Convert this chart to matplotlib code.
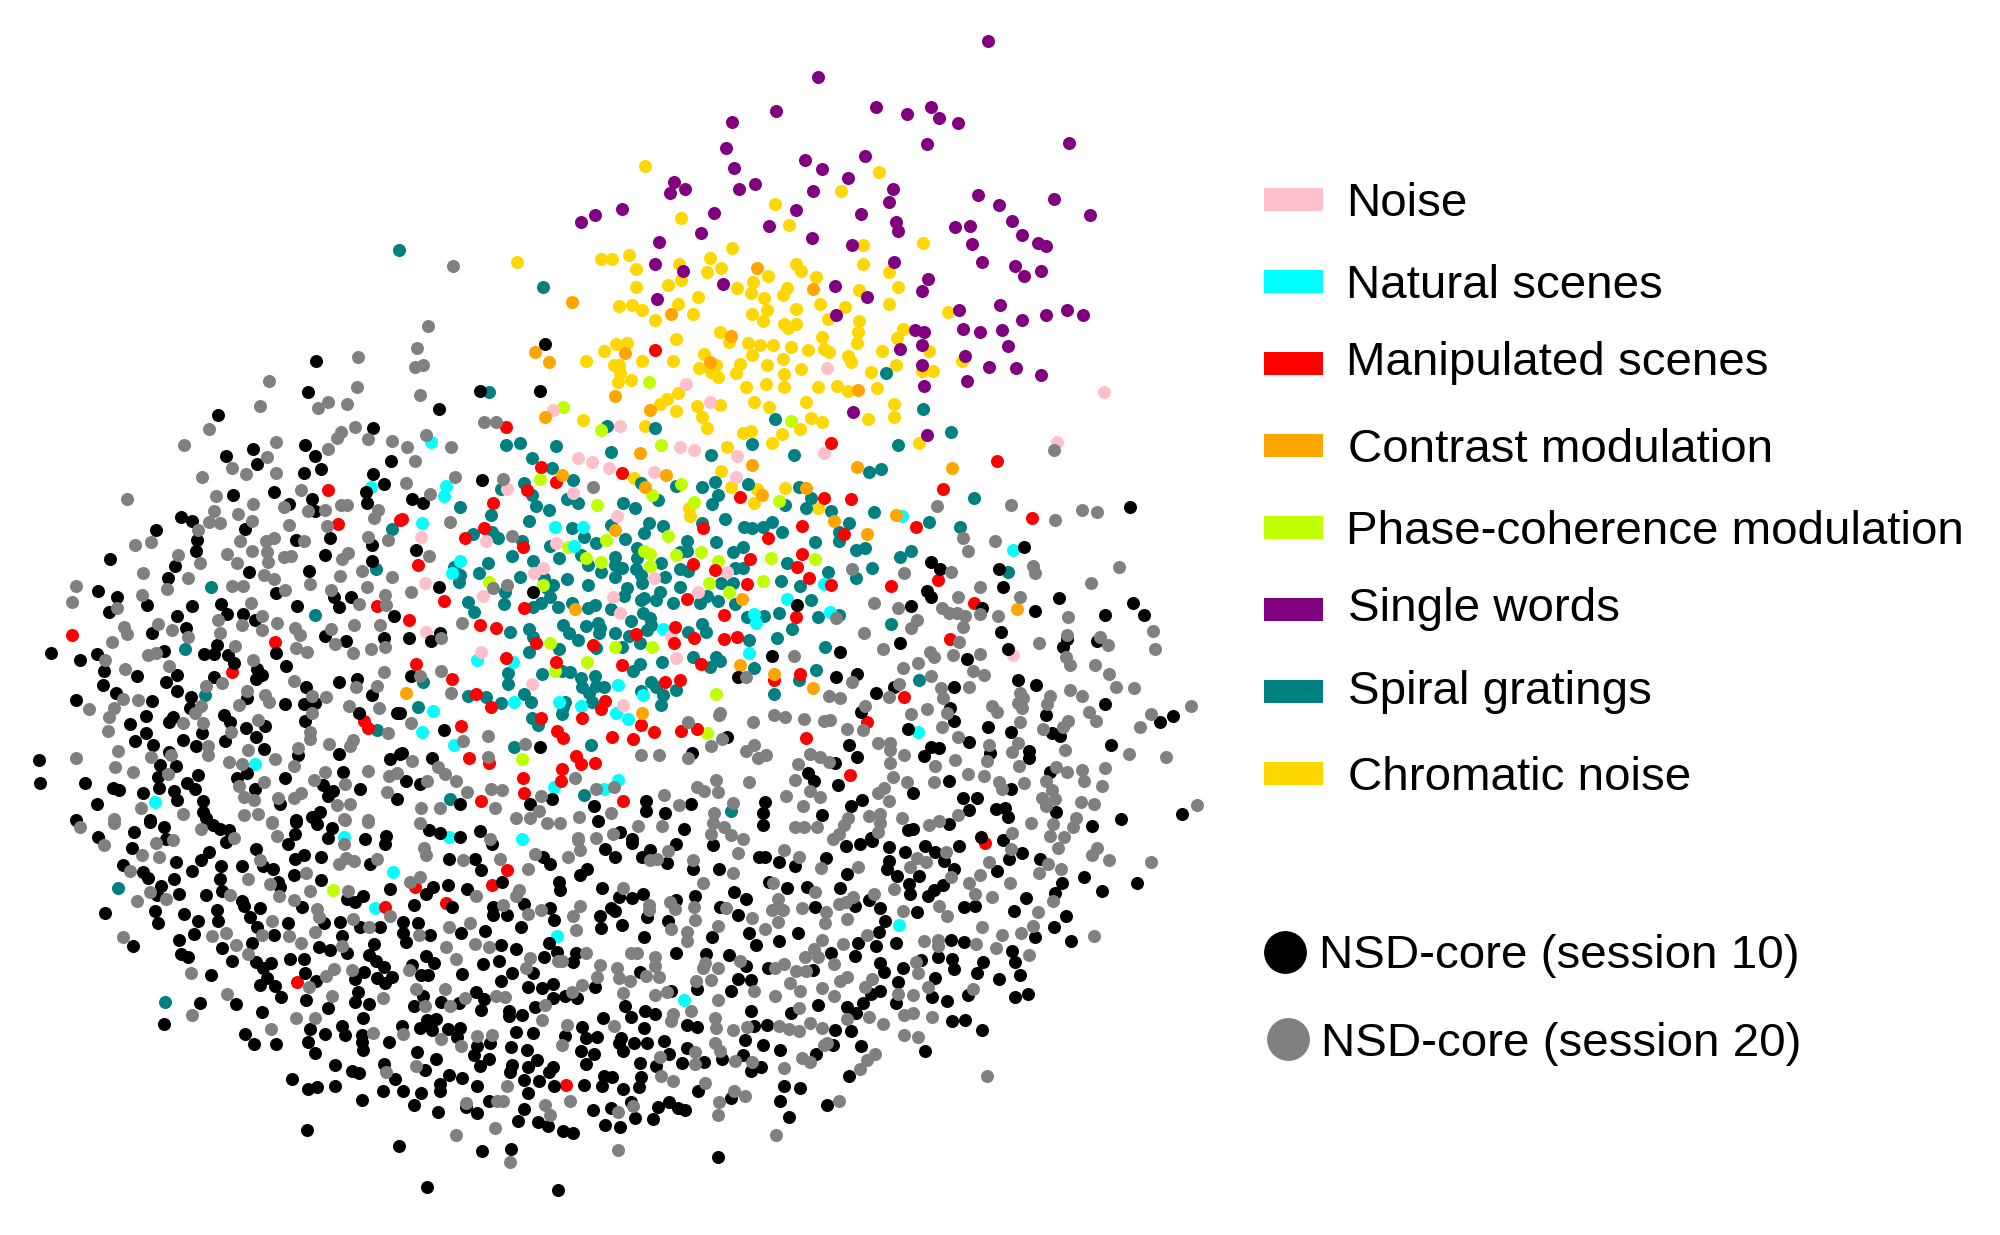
import numpy as np
import matplotlib
matplotlib.use("Agg")
import matplotlib.pyplot as plt
from matplotlib.patches import Rectangle

plt.rcParams['font.family'] = ['Liberation Sans', 'DejaVu Sans']

FRAME_TOP = (500, 20, 2.45, 3)
FRAME_MID = (400, 440, 2.45, 3)
FRAME_LEFT = (20, 340, 3, 3)
FRAME_LOWL = (60, 800, 3, 3)
FRAME_LOWR = (560, 780, 2.45, 3)
FRAME_RIGHT = (1040, 440, 3, 3)
FRAME_EDGE = (260, 230, 3, 3)

purple_top = [(1195,62),(779,170),(677,272),(569,305),(920,261),(996,282),(1056,261),(1076,295),(1121,310),(1045,372),(1395,369),(554,385),(747,421),(789,446),(895,407),(852,474),(574,445),(427,487),(453,506),(417,519),(585,507),(625,491),(768,514),(962,506),(953,547),(1172,525),(1222,554),(1358,537),(199,605),(232,586),(298,568),(525,578),(726,571),(885,583),(1445,584),(658,619),(493,638),(970,606),(975,632),(1114,620),(1152,619),(1254,604),(1280,644),(389,666),(764,655),(862,675),(1156,672),(1318,670),(1337,679),(379,733),(448,752),(965,726),(1180,725),(1262,737),(1283,767),(1326,754),(547,793),(821,797),(1048,778),(1033,814),(384,837),(900,830),(1124,870),(1224,854),(823,885),(1389,871),(1428,884),(1337,884),(1278,900),(1016,929),(1038,937),(1135,928),(1175,937),(1231,929),(1034,974),(981,988),(1245,978),(1140,1008),(1034,1035),(1198,1041),(1265,1044),(1325,1065),(1143,1082),(1039,1097),(866,1176),(1046,1245)]

gold_top = [(356,439),(929,456),(836,514),(673,553),(444,594),(707,615),(889,674),(1036,668),(568,684),(41,727),(247,717),(275,717),(315,704),(332,746),(438,732),(514,714),(507,757),(542,745),(724,731),(737,752),(889,731),(952,755),(656,767),(773,770),(620,787),(581,803),(443,780),(412,794),(334,800),(704,805),(694,825),(616,818),(647,833),(879,809),(974,800),(485,832),(437,851),(292,858),(323,854),(349,871),(472,881),(379,900),(618,883),(655,871),(725,867),(784,852),(846,861),(953,851),(1097,876),(644,904),(803,896),(697,913),(725,911),(706,925),(879,903),(878,935),(988,926),(972,954),(539,937),(430,956),(789,952),(560,966),(607,968),(636,975),(668,974),(283,973),(311,969),(256,993),(712,980),(755,990),(794,986),(805,995),(874,968),(935,994),(1052,992),(501,1001),(617,1004),(211,1023),(347,1022),(423,1023),(694,1016),(853,1007),(859,1026),(279,1035),(292,1035),(528,1035),(588,1031),(488,1045),(653,1036),(737,1047),(971,1036),(1132,1023),(1034,1053),(1060,1053),(909,1056),(293,1058),(518,1057),(577,1059),(535,1071),(697,1061),(290,1085),(322,1081),(602,1100),(651,1093),(695,1102),(780,1100),(825,1099),(852,1112),(924,1104),(435,1118),(409,1136),(391,1152),(482,1157),(540,1155),(622,1147),(660,1161),(749,1146),(966,1152),(430,1174),(494,1191),(966,1190),(203,1199),(763,1195),(788,1205),(901,1196),(506,1223),(356,1217),(735,1226),(596,1238),(615,1233),(692,1243)]
gold_mid = [(800,20),(912,10),(1272,8),(787,93),(573,113),(812,142),(875,147),(943,143),(868,188),(708,205),(711,228),(1023,205)]

orange_top = [(630,743),(177,845),(766,806),(419,882),(565,947),(85,997),(119,1025),(306,999),(515,1026),(282,1127),(878,1111),(367,1169),(110,1190)]
orange_mid = [(588,40),(1120,80),(1353,84),(862,75),(396,105),(652,105),(600,142),(994,145),(886,165),(1216,225),(1064,243),(527,270),(1144,282),(838,478),(428,507),(15,758),(833,675),(916,701),(1013,743),(592,818),(1512,508)]

teal_top = [(106,800),(946,1060),(1037,1168),(673,1196),(263,1218),(380,1225),(1105,1235)]
teal_mid = [(260,15),(293,10),(381,18),(518,36),(762,45),(966,45),(863,12),(1221,15),(323,53),(373,83),(1150,95),(1178,88),(423,120),(303,128),(248,148),(590,130),(675,137),(740,140),(772,125),(853,133),(977,142),(323,165),(408,177),(435,190),(333,197),(366,209),(148,200),(223,225),(547,190),(575,205),(633,180),(780,165),(765,193),(943,195),(1006,175),(995,203),(1055,212),(1161,215),(1407,173),(315,242),(797,238),(516,255),(610,250),(645,258),(741,250),(842,262),(862,265),(890,262),(912,245),(935,275),(1100,250),(1297,247),(1373,262),(180,282),(225,275),(241,295),(422,265),(450,292),(480,308),(597,278),(552,298),(1076,275),(1076,303),(298,302),(367,318),(1017,307),(703,303),(775,305),(1118,330),(1140,325),(1225,350),(1253,333),(580,325),(703,332),(685,335),(817,335),(840,322),(274,347),(390,355),(443,345),(527,350),(580,355),(215,370),(326,362),(460,375),(640,370),(948,370),(132,380),(148,405),(193,398),(145,425),(295,410),(352,413),(410,418),(493,395),(527,375),(543,385),(527,412),(578,388),(590,405),(592,430),(687,388),(705,392),(650,412),(820,383),(841,385),(1049,397),(1118,415),(1156,385),(1490,395),(461,435),(375,435),(360,445),(368,470),(258,455),(555,445),(550,468),(685,440),(786,430),(817,430),(933,423),(979,437),(167,485),(182,515),(255,492),(327,500),(345,490),(387,500),(422,490),(460,505),(478,495),(518,507),(590,480),(597,475),(628,480),(637,457),(670,490),(735,488),(752,467),(778,482),(820,492),(1006,480),(595,520),(612,535),(565,543),(850,530),(893,528),(928,518),(1024,532),(1076,524),(399,555),(455,558),(484,550),(490,563),(487,580),(615,555),(605,570),(741,553),(750,575),(269,575),(315,567),(325,590),(413,578),(435,600),(527,578),(560,587),(587,608),(705,575),(961,567),(1202,553),(855,600),(923,593),(315,635),(390,627),(480,625),(543,620),(1041,620),(641,667),(718,650),(775,650),(785,662),(760,682),(868,683),(587,672),(572,692),(396,692),(416,695),(443,715),(348,702),(264,700),(478,708),(265,732),(445,742),(462,760),(480,738),(500,740),(1019,690),(977,720),(1272,720),(615,725),(628,740),(590,752),(676,750),(645,765),(640,795),(167,768),(210,770),(247,788),(303,763),(320,787),(470,785),(400,800),(398,823),(405,785),(43,800),(57,727),(323,835),(337,855),(916,762),(467,916),(280,920),(123,1076),(451,1065),(812,1113)]
teal_left = [(573,740),(885,825),(495,927),(556,1066),(1117,567),(1071,1171),(1067,688),(1408,157)]
teal_lowl = [(175,264),(314,605)]
teal_edge = [(417,60)]

red_top = [(380,991),(15,1222)]
red_mid = [(1055,8),(1463,63),(345,82),(383,127),(543,99),(312,150),(1331,148),(228,190),(834,170),(1040,173),(1105,178),(5,238),(985,257),(1265,262),(1548,233),(743,265),(207,265),(159,293),(901,295),(1088,282),(302,322),(984,342),(858,356),(718,372),(43,375),(973,380),(771,390),(1002,413),(1202,437),(1317,420),(851,433),(1056,435),(108,482),(702,477),(1406,488),(303,505),(795,524),(971,530),(21,540),(196,554),(236,563),(578,582),(674,560),(720,595),(672,610),(794,597),(825,592),(334,610),(472,616),(1348,597),(259,653),(38,673),(381,666),(543,676),(738,672),(980,702),(917,720),(127,717),(650,725),(686,719),(186,763),(1234,772),(223,800),(503,782),(493,808),(345,835),(445,834),(149,857),(591,856),(1143,846),(385,873),(400,893),(520,890),(571,896),(623,877),(688,872),(728,866),(994,894),(168,954),(217,968),(430,948),(443,973),(477,970),(397,987),(301,1013),(1102,1006),(395,1024),(303,1060),(198,1084),(546,1084)]
red_left = [(924,450),(954,552),(1139,540),(157,885),(766,905),(635,997),(1070,798),(1032,1143),(1043,1165)]
red_lowl = [(1066,262),(975,322),(1158,310),(1342,209),(1295,255),(711,547)]
red_lowr = [(14,915),(1041,190)]

cyan_mid = [(75,5),(112,137),(108,167),(54,249),(379,261),(448,262),(427,318),(146,363),(128,398),(1502,330),(1230,228),(1040,433),(947,476),(1053,516),(868,522),(871,550),(645,566),(856,638),(188,659),(276,665),(535,734),(596,766),(280,787),(390,785),(443,798),(80,813),(528,820),(558,838),(55,876),(132,915),(1269,875),(535,1021),(377,1040),(500,1047),(120,1192),(298,1197)]
cyan_left = [(1054,440),(705,1273),(406,1387)]
cyan_lowl = [(851,112),(999,217),(945,323),(1490,408)]
cyan_lowr = [(830,434),(303,661)]

pink_top = [(801,1043),(455,1091),(1481,1117),(514,1146),(130,1171),(293,1217),(1365,1265)]
pink_mid = [(437,53),(471,67),(512,84),(685,22),(720,30),(825,47),(1038,38),(623,97),(823,110),(263,147),(423,160),(532,228),(51,291),(210,302),(383,308),(351,383),(328,398),(800,395),(622,413),(61,429),(203,467),(729,455),(522,472),(540,520),(63,575),(663,588),(198,637),(677,653),(1502,645),(323,733),(547,794)]

lime_top = [(364,1085),(155,1160),(714,1203),(248,1231)]
lime_mid = [(640,15),(343,117),(688,132),(618,165),(483,195),(720,187),(928,182),(656,288),(505,300),(412,320),(598,333),(613,342),(676,345),(737,337),(456,355),(492,367),(613,378),(778,362),(909,353),(1017,356),(217,425),(757,430),(890,424),(805,457),(350,435),(367,610),(527,622),(618,620),(457,665),(380,692),(775,762),(752,880),(298,956)]
lime_lowl = [(820,270)]

black_top = [(110,972),(97,1113)]
black_mid = [(200,120),(30,177),(56,188),(40,330),(95,440),(326,455),(97,578),(75,602),(22,595),(27,708),(1302,365),(1322,388),(1530,320),(1467,388),(1477,440),(1290,452),(1300,472),(972,494),(1251,497),(1427,503),(1555,512),(1472,575),(1225,610),(1489,626),(1079,637),(911,648),(1388,657),(1119,702),(1067,712),(828,710),(1513,721),(1557,735),(1358,742),(1210,742),(1167,760),(1347,805),(1130,817),(1357,843),(1440,860),(1245,868),(1497,876),(107,871),(1395,906),(1101,915),(802,892),(344,921),(1300,922),(1320,925),(1285,947),(1445,940),(715,938),(1542,932),(1542,955),(5,940),(79,955),(1119,950),(1065,968),(999,998),(1014,1023),(15,1024),(48,1032),(1074,1034),(1345,1022),(372,1077),(1257,1060),(1497,1047),(603,1084),(602,1113),(318,1093),(148,1092),(475,1098),(650,1120),(714,1093),(895,1087),(890,1120),(890,1155),(1132,1079),(1105,1098),(1033,1124),(1380,1074),(1413,1073),(1393,1110),(1460,1107),(1482,1105),(1490,1130),(1345,1153),(485,1142),(70,1170),(98,1180),(148,1190),(195,1172),(697,1168),(538,1175),(1245,1170),(1258,1168),(1423,1190),(1155,1195),(568,1198),(0,820)]
black_right = [(271,201),(56,475),(279,490),(313,526),(195,525),(80,598),(68,620),(170,603),(195,792),(398,829),(359,845),(17,825),(36,878),(60,887),(214,915),(29,995),(49,1116),(426,1123),(244,1136),(156,1158)]
black_left = [(887,64),(864,156),(595,226),(1257,207),(1380,152),(1058,265),(854,316),(1113,363),(698,328),(617,349),(886,348),(710,373),(903,388),(852,399),(1060,403),(1093,431),(762,455),(639,466),(1038,457),(875,478),(1040,489),(806,491),(885,513),(484,531),(516,543),(408,571),(676,566),(530,600),(829,601),(930,593),(1056,615),(527,632),(269,657),(914,646),(465,677),(1056,664),(686,697),(867,692),(445,714),(233,754),(290,771),(380,796),(767,758),(942,770),(994,772),(958,800),(517,797),(604,793),(621,822),(266,816),(831,797),(668,821),(472,829),(706,841),(1123,827),(497,864),(397,880),(915,887),(1091,895),(978,903),(92,938),(433,932),(590,916),(552,943),(582,943),(230,943),(769,939),(623,944),(180,961),(641,968),(799,977),(253,994),(712,987),(727,1005),(707,1018),(352,1008),(470,1005),(581,1010),(437,1027),(249,1034),(958,1025),(1012,1018),(858,1040),(288,1058),(470,1054),(1055,1066),(513,1070),(681,1073),(169,1080),(397,1084),(795,1091),(852,1092),(885,1088),(510,1105),(377,1128),(1016,1120),(1131,1120),(612,1125),(459,1132),(447,1146),(330,1153),(630,1147),(855,1143),(735,1157),(679,1164),(546,1178),(378,1178),(709,1192),(345,1202),(489,1201),(614,1204),(398,1216),(528,1219),(731,1227),(447,1237),(833,1245),(956,1241),(1109,1257),(1139,1242),(57,1260),(419,1275),(467,1278),(969,1296),(680,1298),(413,1312),(652,1314),(533,1305),(794,1313),(60,1328),(194,1329),(501,1328),(526,1347),(418,1344),(279,1345),(297,1351),(705,1348),(908,1335),(938,1352),(1019,1346),(462,1352),(924,1369),(368,1360),(470,1380),(549,1383),(1130,1378),(230,1393),(779,1393),(549,1417),(900,1415),(875,1430),(389,1440),(168,1440),(557,1435),(829,1440)]
black_lowl = [(269,65),(312,80),(222,96),(115,110),(319,118),(215,145),(460,75),(480,88),(508,90),(497,127),(709,65),(705,101),(684,131),(815,83),(805,115),(770,73),(915,117),(978,108),(975,133),(588,147),(446,155),(424,180),(349,185),(189,196),(397,214),(482,198),(547,197),(608,197),(640,208),(705,177),(733,165),(783,172),(930,192),(250,215),(265,233),(343,237),(480,236),(703,226),(784,240),(653,245),(660,262),(302,257),(292,285),(357,281),(438,285),(487,272),(990,267),(545,302),(553,318),(599,325),(725,320),(862,298),(884,305),(908,287),(284,333),(134,340),(373,341),(470,330),(570,350),(415,363),(474,363),(295,369),(684,369),(792,370),(840,365),(899,380),(960,381),(590,380),(401,402),(643,406),(847,407),(356,419),(219,437),(576,429),(941,432),(777,440),(811,450),(486,445),(860,460),(363,461),(384,472),(517,484),(689,477),(733,476),(926,466),(947,482),(587,487),(634,489),(610,505),(972,500),(453,524),(735,520),(913,516),(620,533),(767,542),(884,537),(952,533),(995,530),(600,556),(645,559),(975,550),(662,590),(894,577),(738,600),(529,611),(419,610),(884,607),(926,613),(804,624),(607,635),(311,672),(908,654),(749,686),(845,679),(855,704),(554,701),(581,733),(648,732),(796,703),(905,706),(905,726),(743,725),(908,750),(986,725),(766,758),(825,794),(875,812),(898,819),(973,793),(1006,837),(697,838),(743,867),(772,860),(824,857),(905,900),(969,873),(742,991),(1016,1037),(1029,365),(1074,370),(1030,400),(1037,427),(1111,405),(1098,467),(1122,490),(1055,495),(1083,525),(1104,525),(1062,617),(1090,588),(1142,606),(1197,610),(1247,577),(1272,597),(1263,630),(1207,523),(1270,492),(1317,483),(1323,435),(1368,446),(1274,393),(1202,398),(1383,382),(1298,320),(1298,345),(1341,345),(1392,312),(1327,246),(1220,267),(1163,255),(1118,261),(1098,281),(1062,314),(1177,322),(1167,177),(1245,178),(1263,211),(1297,131),(1498,245),(1467,430),(1451,471),(1491,457),(1356,520),(1324,544),(1403,560),(1420,518),(1446,565),(1479,553),(1479,593),(1424,621),(1348,632),(1348,648),(1387,645),(1369,697),(1418,698),(1354,740),(1402,751),(1430,780),(1405,802),(1356,795),(1349,815),(1391,841),(1438,843),(1404,878),(1393,928),(1374,964),(1433,966),(1464,977),(1483,858),(1480,800),(1467,815),(1250,738),(1241,765),(1289,730),(1288,776),(1259,797),(1071,756),(1128,777),(1095,811),(1167,825),(1207,833),(1250,859),(1141,853),(1139,872),(1084,880),(1028,872),(1061,916),(1133,936),(1217,920),(1250,938),(1288,902),(1100,660),(1128,657),(1080,685),(1115,690),(1025,678),(1163,687),(1199,685),(1192,712),(1267,1052),(1352,1046),(1101,1161),(1493,1171),(1469,325),(1481,360),(1450,170),(1470,192)]
black_lowr = [(177,188),(110,207),(283,193),(375,196),(700,197),(735,193),(765,182),(805,200),(895,198),(978,197),(1085,180),(1133,219),(135,232),(220,210),(200,232),(263,250),(487,232),(502,230),(536,247),(575,258),(651,235),(845,215),(918,215),(807,243),(800,268),(940,242),(1099,238),(1177,237),(48,284),(66,268),(327,268),(390,268),(702,281),(965,267),(826,289),(880,288),(1070,274),(1285,291),(1413,308),(1230,310),(1328,332),(1212,340),(0,330),(102,323),(513,305),(556,323),(604,320),(687,325),(855,312),(938,315),(917,330),(902,349),(858,342),(144,350),(176,353),(204,341),(427,337),(455,358),(331,347),(285,360),(757,360),(1141,353),(1017,377),(990,380),(392,380),(625,381),(723,378),(785,385),(875,397),(1112,394),(1239,407),(125,385),(135,392),(97,408),(212,412),(435,404),(797,424),(265,423),(153,436),(101,445),(1210,441),(462,458),(583,458),(781,455),(207,471),(372,470),(1163,471),(1253,482),(480,494),(537,482),(731,490),(775,498),(822,488),(958,480),(991,486),(1107,512),(283,518),(357,521),(413,525),(665,518),(722,528),(38,518),(32,545),(925,532),(885,540),(960,538),(1115,545),(965,567),(1037,547),(783,550),(793,576),(840,565),(455,557),(510,565),(620,571),(1022,578),(195,577),(1128,586),(1076,596),(918,594),(437,598),(468,600),(828,606),(86,622),(420,632),(783,633),(335,626),(272,632),(12,648),(42,655),(763,642),(1000,646),(1114,650),(1147,642),(911,650),(947,662),(743,669),(824,669),(160,678),(632,674),(703,682),(467,694),(565,698),(725,698),(208,693),(233,701),(173,710),(106,713),(961,724),(992,719),(55,741),(207,745),(312,735),(336,741),(476,738),(507,735),(674,750),(714,752),(1035,751),(12,768),(64,773),(90,771),(150,773),(145,790),(182,788),(214,790),(254,782),(453,780),(498,795),(670,795),(737,798),(155,812),(52,812),(311,803),(538,810),(895,812),(84,823),(267,822),(397,838),(449,826),(628,822),(64,852),(196,848),(234,859),(298,849),(354,845),(469,872),(493,861),(709,887),(107,887),(127,890),(199,891),(58,916),(104,918),(155,926),(193,921),(549,917),(588,925),(337,933),(418,953),(538,963),(267,965),(653,974),(173,966),(240,980),(288,983),(306,989),(125,983),(80,991),(561,1010),(183,1015),(227,1016),(110,1034),(148,1042),(8,1053),(32,1060),(386,1131)]

gray_mid = [(125,22),(17,22),(36,62),(134,112),(15,130),(252,116),(74,162),(472,140),(123,246),(275,288),(1315,197),(1497,195),(1380,295),(1457,304),(1391,333),(72,348),(1350,395),(1107,386),(1235,400),(1552,378),(1555,400),(1420,442),(262,434),(228,443),(28,457),(1519,472),(1367,472),(1161,489),(1219,503),(1327,503),(1345,520),(1365,518),(1385,527),(1422,522),(1465,527),(1267,540),(1253,563),(1380,562),(1068,533),(153,549),(1138,578),(100,595),(1369,606),(1565,610),(1183,627),(965,647),(1298,637),(1308,650),(1354,645),(1420,643),(1268,670),(1233,685),(48,708),(100,694),(848,710),(1300,707),(1405,693),(1430,705),(1107,725),(1222,732),(1326,745),(1394,740),(124,760),(1052,767),(1079,773),(1197,772),(1330,775),(1520,760),(1527,775),(1514,790),(1140,797),(1450,797),(1463,815),(1290,808),(1252,822),(1340,818),(1523,805),(782,825),(785,820),(917,825),(944,832),(991,836),(1040,843),(1053,840),(705,847),(865,845),(28,850),(1520,847),(1095,867),(1135,870),(1329,860),(216,888),(155,902),(1367,892),(790,896),(1170,908),(1200,908),(1200,930),(307,913),(763,918),(867,915),(848,932),(1443,915),(1515,908),(1500,935),(590,945),(635,945),(897,944),(877,954),(1005,942),(1030,950),(1050,965),(215,950),(1234,945),(705,955),(30,962),(94,980),(110,1002),(1200,970),(975,973),(1310,978),(1360,960),(1437,964),(1517,978),(1392,1002),(1430,1007),(1207,1010),(428,1014),(967,1020),(138,1024),(66,1024),(775,1021),(855,1025),(1243,1027),(1309,1025),(1467,1025),(1530,1028),(163,1056),(223,1047),(250,1050),(480,1047),(525,1042),(728,1042),(745,1052),(778,1057),(1004,1052),(1187,1045),(1172,1060),(1475,1047),(648,1066),(345,1068),(946,1067),(1030,1072),(1197,1082),(52,1103),(98,1105),(233,1105),(340,1113),(683,1095),(817,1088),(988,1097),(517,1118),(438,1132),(318,1135),(283,1135),(770,1120),(1097,1133),(1177,1122),(1230,1135),(1150,1128),(1367,1125),(50,1148),(360,1148),(393,1148),(583,1158),(642,1158),(768,1148),(793,1162),(968,1160),(990,1160),(1022,1162),(1088,1155),(1320,1143),(1297,1155),(1175,1150),(1500,1178),(1545,1150),(1170,1175),(1075,1182),(762,1182),(810,1185),(522,1182),(435,1195),(220,1197),(480,1195),(840,1197),(1060,1197)]
gray_right = [(43,30),(44,240),(126,211),(172,217),(237,382),(152,429),(84,530),(80,584),(181,590),(205,615),(340,572),(346,628),(78,652),(91,675),(164,676),(206,702),(228,742),(281,745),(90,750),(126,768),(30,767),(20,793),(148,817),(168,842),(333,823),(452,799),(299,861),(85,842),(70,860),(8,868),(75,930),(268,941),(377,952),(48,981),(81,997),(127,990),(195,983),(133,1024),(187,1038),(18,1024),(36,1050),(45,1076),(5,1075),(17,1097),(124,1085),(163,1093),(470,1096),(107,1135),(99,1160),(38,1152),(30,1188),(72,1190)]
gray_edge = [(580,109),(504,288)]
gray_left = [(1190,25),(1013,50),(1185,80),(1208,75),(747,122),(1011,140),(1200,165),(925,185),(893,205),(982,192),(720,197),(1391,247),(1427,245),(566,266),(1004,261),(963,277),(950,295),(1043,296),(1217,285),(492,316),(769,306),(1115,302),(923,328),(741,350),(637,384),(679,403),(769,400),(546,412),(843,450),(321,477),(587,468),(700,493),(963,494),(981,495),(793,500),(863,512),(916,511),(581,513),(654,522),(1073,510),(1062,535),(695,542),(568,547),(601,549),(808,555),(920,559),(533,571),(1045,592),(1104,600),(659,604),(737,602),(763,594),(853,602),(345,614),(393,607),(695,633),(621,643),(741,636),(745,665),(793,650),(814,647),(985,638),(966,658),(473,645),(651,670),(540,669),(370,700),(503,714),(733,705),(762,718),(959,707),(1026,692),(1115,712),(637,739),(668,739),(441,746),(795,750),(870,731),(933,750),(1042,740),(169,738),(155,787),(367,765),(1096,765),(694,790),(1016,791),(1097,796),(291,803),(725,827),(593,840),(666,855),(772,850),(725,870),(825,865),(1001,856),(1079,854),(312,862),(413,851),(322,883),(457,870),(839,885),(932,868),(601,880),(505,890),(276,907),(945,912),(646,918),(828,923),(860,936),(1000,938),(1054,927),(1096,922),(384,946),(408,940),(255,960),(700,959),(448,978),(314,987),(1091,997),(821,1023),(605,1030),(557,1037),(1070,1037),(1007,1040),(680,1052),(308,1076),(354,1080),(875,1069),(917,1070),(736,1066),(748,1087),(656,1094),(988,1098),(206,1108),(281,1103),(543,1097),(1078,1104),(268,1132),(525,1120),(877,1118),(714,1139),(488,1148),(549,1148),(263,1172),(633,1177),(870,1175),(1103,1178),(870,1198),(998,1199),(991,1218),(927,1213),(833,1223),(563,1218),(564,1246),(293,1233),(683,1231),(393,1250),(453,1245),(766,1257),(168,1254),(628,1265),(665,1272),(286,1282),(822,1278),(339,1296),(443,1302),(916,1296),(1043,1293),(1106,1308),(1132,1300),(975,1331),(732,1325),(656,1339),(882,1320),(1100,1356),(842,1358),(822,1374),(773,1374),(671,1370),(701,1380),(364,1405),(950,1394),(991,1392),(490,1421),(671,1425),(715,1423),(281,1438),(973,1438),(1043,1440),(757,1445)]
gray_lowl = [(161,68),(60,80),(131,134),(288,130),(340,120),(246,164),(297,171),(423,88),(522,113),(635,70),(651,109),(925,66),(855,60),(851,133),(599,180),(838,192),(858,175),(881,183),(950,176),(210,214),(563,236),(737,219),(629,251),(270,275),(319,298),(232,304),(510,286),(658,287),(751,274),(864,272),(701,301),(771,327),(776,350),(635,362),(880,358),(928,380),(991,347),(189,412),(455,407),(498,400),(607,406),(687,407),(764,397),(527,434),(722,428),(846,437),(564,463),(394,519),(823,507),(799,527),(875,510),(746,561),(502,582),(815,589),(968,595),(396,644),(764,654),(708,654),(632,686),(939,700),(977,817),(1049,245),(1080,231),(1248,288),(1092,143),(1098,165),(1210,181),(1320,176),(1404,206),(1376,270),(1367,287),(1329,315),(1404,343),(1444,330),(1167,381),(1230,368),(1077,405),(1245,433),(1286,440),(1157,441),(1187,476),(1411,474),(1399,505),(1495,482),(1048,511),(1067,566),(1154,568),(1216,595),(1170,617),(1096,617),(1307,587),(1336,592),(1455,615),(1445,659),(1030,702),(1142,717),(1251,708),(1297,705),(1202,739),(1068,798),(1340,857),(1219,908),(1310,904),(1330,902),(1455,915),(1469,946),(1306,985),(1189,1005),(1349,1085),(1425,161)]
gray_lowr = [(1221,203),(1303,225),(1315,203),(1345,240),(1449,246),(1228,266),(1195,253),(1174,280),(1105,208),(1050,245),(1028,285),(1003,308),(1103,308),(1017,342),(1059,351),(1207,363),(1171,395),(1158,438),(1129,458),(1034,440),(1084,466),(1308,468),(1019,493),(1068,505),(1150,524),(1011,627),(946,215),(957,290),(897,245),(875,235),(857,262),(819,328),(770,342),(719,350),(700,367),(683,373),(928,379),(947,408),(840,394),(704,418),(651,395),(650,430),(753,464),(693,492),(641,480),(623,508),(600,530),(633,530),(671,552),(892,484),(925,480),(926,497),(873,546),(877,580),(902,620),(765,598),(747,620),(704,590),(685,602),(641,625),(672,647),(589,633),(563,609),(527,647),(827,642),(865,646),(842,705),(866,700),(911,711),(842,766),(877,770),(758,712),(791,731),(702,718),(643,744),(585,684),(612,728),(537,738),(560,748),(585,752),(648,795),(655,790),(771,822),(752,840),(735,867),(593,833),(613,845),(550,865),(683,962),(1045,889),(530,1066),(388,1005),(390,967),(426,933),(454,949),(355,908),(277,903),(247,887),(330,853),(245,830),(330,815),(380,790),(392,812),(428,843),(470,846),(458,740),(424,749),(380,713),(382,745),(272,722),(276,703),(322,694),(132,738),(16,735),(5,795),(388,661),(333,603),(370,600),(476,632),(261,637),(233,645),(155,640),(53,614),(30,636),(91,590),(145,595),(171,602),(211,588),(242,592),(98,556),(139,565),(232,530),(232,558),(173,520),(188,518),(63,520),(4,543),(442,544),(355,550),(350,563),(388,564),(527,563),(550,553),(578,572),(602,574),(310,456),(310,482),(273,446),(387,438),(330,421),(329,380),(270,365),(281,386),(218,375),(218,390),(48,378),(33,407),(39,449),(155,325),(350,308),(425,280),(523,310),(624,337),(533,356),(534,385),(520,390),(547,390),(534,425),(593,383),(503,447),(470,413),(407,385),(640,265),(731,261),(586,231),(548,211),(435,218),(327,240),(264,212),(238,238),(220,240),(20,232),(48,211),(44,180),(142,996),(178,978),(25,963),(141,1109)]

series_labels = ['Noise', 'Natural scenes', 'Manipulated scenes', 'Contrast modulation',
                 'Phase-coherence modulation', 'Single words', 'Spiral gratings', 'Chromatic noise']
series_colors = ['pink', 'cyan', 'red', 'orange', '#bfff00', 'purple', 'teal', 'gold']
core_labels = ['NSD-core (session 10)', 'NSD-core (session 20)']
core_colors = ['black', 'gray']


def read(*parts):
    xs, ys = [], []
    for points, (x0, y0, sx, sy) in parts:
        for cx, cy in points:
            xs.append(x0 + cx / sx)
            ys.append(y0 + cy / sy)
    return np.array(xs), np.array(ys)


layers = [
    ('gold', read((gold_top, FRAME_TOP), (gold_mid, FRAME_MID))),
    ('purple', read((purple_top, FRAME_TOP))),
    ('teal', read((teal_top, FRAME_TOP), (teal_mid, FRAME_MID), (teal_left, FRAME_LEFT), (teal_lowl, FRAME_LOWL), (teal_edge, FRAME_EDGE))),
    ('#bfff00', read((lime_top, FRAME_TOP), (lime_mid, FRAME_MID), (lime_lowl, FRAME_LOWL))),
    ('cyan', read((cyan_mid, FRAME_MID), (cyan_left, FRAME_LEFT), (cyan_lowl, FRAME_LOWL), (cyan_lowr, FRAME_LOWR))),
    ('pink', read((pink_top, FRAME_TOP), (pink_mid, FRAME_MID))),
    ('red', read((red_top, FRAME_TOP), (red_mid, FRAME_MID), (red_left, FRAME_LEFT), (red_lowl, FRAME_LOWL), (red_lowr, FRAME_LOWR))),
    ('orange', read((orange_top, FRAME_TOP), (orange_mid, FRAME_MID))),
    ('black', read((black_top, FRAME_TOP), (black_mid, FRAME_MID), (black_right, FRAME_RIGHT), (black_left, FRAME_LEFT), (black_lowl, FRAME_LOWL), (black_lowr, FRAME_LOWR))),
    ('gray', read((gray_mid, FRAME_MID), (gray_right, FRAME_RIGHT), (gray_edge, FRAME_EDGE), (gray_left, FRAME_LEFT), (gray_lowl, FRAME_LOWL), (gray_lowr, FRAME_LOWR))),
]

fig = plt.figure(figsize=(20, 12.35), dpi=100)
ax = fig.add_axes([0, 0, 1, 1])
ax.set_xlim(0, 2000)
ax.set_ylim(1235, 0)
ax.axis('off')

DOT = 88
for color, (xs, ys) in layers:
    ax.scatter(xs, ys, s=DOT, c=color, linewidths=0, zorder=2)

# Legend layout
patch_centers = [199, 281, 363, 445, 527, 609, 691, 773]
text_x = [1346.3, 1346.3, 1346.3, 1347.7, 1346.3, 1348.2, 1348.2, 1347.7]
text_base = [215.5, 298.5, 375, 462.2, 544, 621, 703.5, 790]
FS = 34.2
for lab, col, yc, tx, tb in zip(series_labels, series_colors, patch_centers, text_x, text_base):
    ax.add_patch(Rectangle((1263.5, yc - 11.5), 59, 23, fc=col, ec='none', zorder=3))
    ax.text(tx, tb, lab, fontsize=FS, va='baseline', ha='left', color='black')

core_x = [1285, 1287.5]
core_y = [952, 1039]
core_tx = [1318.7, 1321.1]
core_tb = [968, 1056]
for lab, col, cx, cy, tx, tb in zip(core_labels, core_colors, core_x, core_y, core_tx, core_tb):
    ax.scatter([cx], [cy], s=950, c=col, linewidths=0, zorder=3)
    ax.text(tx, tb, lab, fontsize=FS, va='baseline', ha='left', color='black')

fig.savefig('out.png', dpi=100, facecolor='white')
